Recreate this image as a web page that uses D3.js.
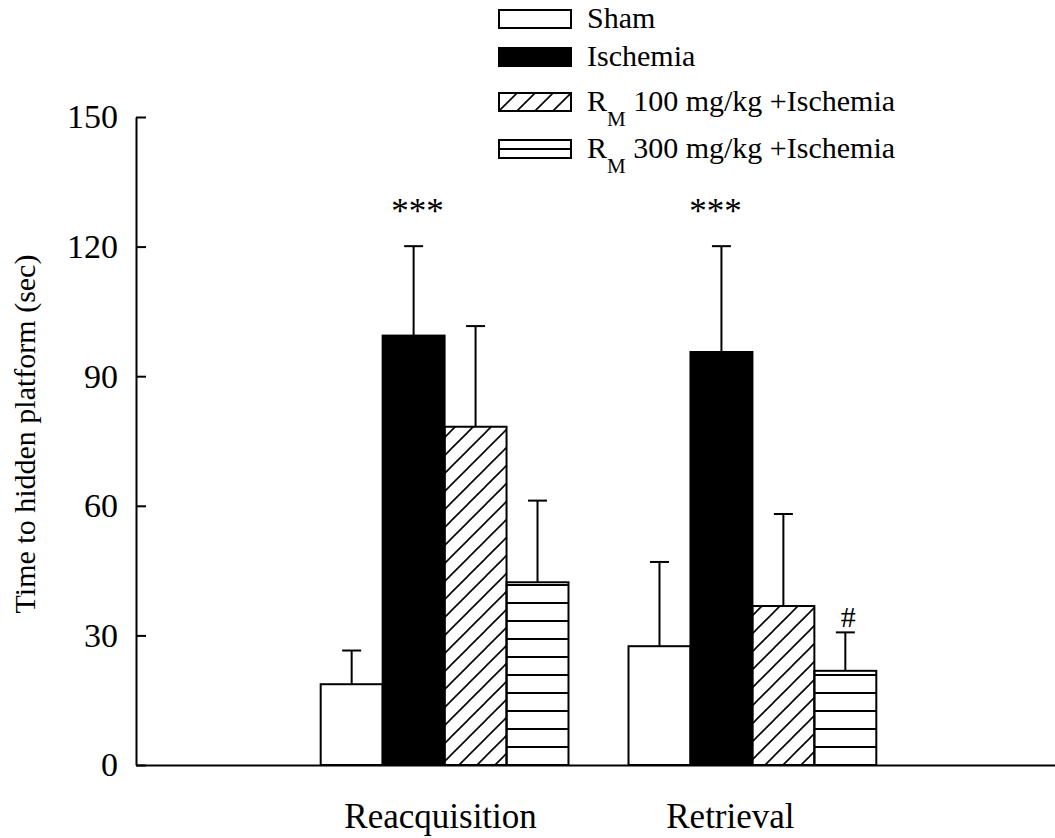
<!DOCTYPE html>
<html>
<head>
<meta charset="utf-8">
<script src="https://cdn.jsdelivr.net/npm/d3@7"></script>
<style>
  body { margin: 0; background: #fff; }
  svg { display: block; font-family: "Liberation Serif", "Times New Roman", serif; }
</style>
</head>
<body>
<svg id="chart" width="1055" height="838"></svg>
<script>
// data
const groups = ['Reacquisition', 'Retrieval'];
const series = ['Sham', 'Ischemia', 'RM100', 'RM300'];
const means_reacq = [18.7, 99.4, 78.3, 42.3];
const means_retr = [27.5, 95.6, 36.8, 21.8];
const errs_reacq = [7.8, 20.7, 23.3, 18.9];
const errs_retr = [19.5, 24.5, 21.3, 8.9];
const y_ticks = [0, 30, 60, 90, 120, 150];
const marks = [
    { gr: 'Reacquisition', se: 'Ischemia', tx: '***' },
    { gr: 'Retrieval', se: 'Ischemia', tx: '***' },
    { gr: 'Retrieval', se: 'RM300', tx: '#' }
];
const leg_labels = [
    { se: 'Sham', pre: 'Sham', sub: '', post: '' },
    { se: 'Ischemia', pre: 'Ischemia', sub: '', post: '' },
    { se: 'RM100', pre: 'R', sub: 'M', post: ' 100 mg/kg +Ischemia' },
    { se: 'RM300', pre: 'R', sub: 'M', post: ' 300 mg/kg +Ischemia' }
];

(function () {
    'use strict';
    const sv = d3.select('#chart');
    const x_lo = 136, y_top = 117, y_bot = 765;

    const da = groups.flatMap((g, gi) => series.map((s, si) => ({
        gr: g, se: s,
        va: gi === 0 ? means_reacq[si] : means_retr[si],
        er: gi === 0 ? errs_reacq[si] : errs_retr[si]
    })));

    const x0 = d3.scaleBand().domain(groups).range([x_lo, 1061])
        .paddingInner(0.195).paddingOuter(0.6);
    const x1 = d3.scaleBand().domain(series).range([0, x0.bandwidth()]).padding(0);
    const y = d3.scaleLinear().domain([0, 150]).range([y_bot, y_top]);

    // patterns
    const defs = sv.append('defs');
    const pd = defs.append('pattern').attr('id', 'diag')
        .attr('patternUnits', 'userSpaceOnUse').attr('width', 18).attr('height', 18);
    pd.append('path').attr('d', 'M0,18 L18,0 M-4.5,4.5 L4.5,-4.5 M13.5,22.5 L22.5,13.5')
        .attr('stroke', '#000').attr('stroke-width', 1.6);
    const ph = defs.append('pattern').attr('id', 'horiz')
        .attr('patternUnits', 'userSpaceOnUse').attr('width', 18).attr('height', 18);
    ph.append('line').attr('x1', 0).attr('x2', 18).attr('y1', 9).attr('y2', 9)
        .attr('stroke', '#000').attr('stroke-width', 2);

    const fills = { Sham: '#fff', Ischemia: '#000', RM100: 'url(#diag)', RM300: 'url(#horiz)' };

    // error bars (drawn first, bars cover the lower part)
    const eb = sv.append('g').attr('stroke', '#000').attr('stroke-width', 2);
    da.forEach(d => {
        const cx = x0(d.gr) + x1(d.se) + x1.bandwidth() / 2;
        eb.append('line').attr('x1', cx).attr('x2', cx)
            .attr('y1', y(d.va)).attr('y2', y(d.va + d.er));
        eb.append('line').attr('x1', cx - 9.5).attr('x2', cx + 9.5)
            .attr('y1', y(d.va + d.er)).attr('y2', y(d.va + d.er));
    });

    sv.append('g').selectAll('rect')
        .data(da)
        .enter()
        .append('rect')
        .attr('x', d => x0(d.gr) + x1(d.se))
        .attr('y', d => y(d.va))
        .attr('width', x1.bandwidth())
        .attr('height', d => y(0) - y(d.va))
        .attr('fill', d => fills[d.se])
        .attr('stroke', '#000')
        .attr('stroke-width', 2);

    // axes
    const y_ax = d3.axisLeft(y).tickValues(y_ticks).tickSizeInner(-10).tickSizeOuter(0).tickPadding(18);
    const yg = sv.append('g').attr('transform', `translate(${x_lo},0)`).call(y_ax);
    yg.selectAll('path, line').attr('stroke', '#000').attr('stroke-width', 2);
    yg.selectAll('text').style('font-size', '34px').attr('fill', '#000')
        .style('font-family', '"Liberation Serif", serif');

    const x_ax = d3.axisBottom(x0).tickSize(0).tickPadding(38);
    const xg = sv.append('g').attr('transform', `translate(0,${y_bot})`).call(x_ax);
    xg.select('path').attr('stroke', '#000').attr('stroke-width', 2);
    // hand-placed labels in the original sit a little left of the group centres
    const lab_dx = [-4, -22];
    xg.selectAll('text').style('font-size', '35px').attr('fill', '#000')
        .style('font-family', '"Liberation Serif", serif')
        .attr('dx', (d, i) => lab_dx[i]);

    sv.append('text')
        .attr('transform', 'rotate(-90)')
        .attr('x', -434)
        .attr('y', 35)
        .attr('text-anchor', 'middle')
        .style('font-size', '30px')
        .text('Time to hidden platform (sec)');

    // significance marks
    const mk_dx = [4, -6, 3];
    marks.forEach((m, i) => {
        const d = da.find(e => e.gr === m.gr && e.se === m.se);
        const cx = x0(d.gr) + x1(d.se) + x1.bandwidth() / 2;
        const star = m.tx.startsWith('*');
        sv.append('text')
            .attr('x', cx + mk_dx[i])
            .attr('y', y(d.va + d.er) - (star ? 23 : 5))
            .attr('text-anchor', 'middle')
            .style('font-size', star ? '35px' : '30px')
            .text(m.tx);
    });

    // legend
    const row_y = [10, 48, 93, 140];
    const le = sv.append('g');
    leg_labels.forEach((l, i) => {
        const it = le.append('g').attr('transform', `translate(499,${row_y[i]})`);
        it.append('rect').attr('width', 72).attr('height', 18)
            .attr('fill', fills[l.se] === 'url(#horiz)' ? '#fff' : fills[l.se])
            .attr('stroke', '#000').attr('stroke-width', 2);
        if (l.se === 'RM300') {
            it.append('line').attr('x1', 0).attr('x2', 72).attr('y1', 9).attr('y2', 9)
                .attr('stroke', '#000').attr('stroke-width', 2);
        }
        const tx = it.append('text').attr('x', 88).attr('y', 18).style('font-size', '30px');
        tx.append('tspan').text(l.pre);
        if (l.sub) {
            tx.append('tspan').attr('dy', 15).style('font-size', '21px').text(l.sub);
            tx.append('tspan').attr('dy', -15).text(l.post);
        }
    });
})();
</script>
</body>
</html>
